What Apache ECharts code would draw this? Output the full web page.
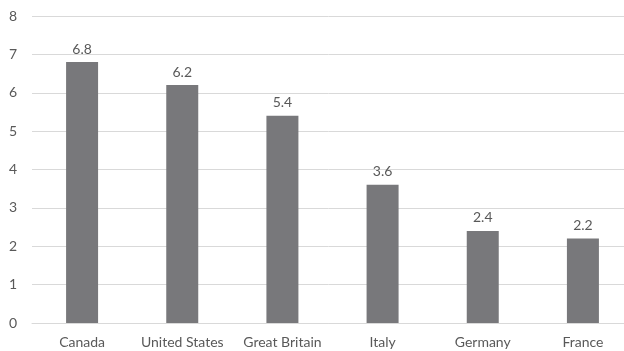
<!DOCTYPE html>
<html>
<head>
<meta charset="utf-8">
<script src="https://cdn.jsdelivr.net/npm/echarts@6/dist/echarts.min.js"></script>
<style>
  html, body { margin: 0; padding: 0; background: #fff; }
  #chart { width: 624px; height: 351px; }
</style>
</head>
<body>
<div id="chart"></div>
<script>
// Countries and their values
const countries = ['Canada', 'United States', 'Great Britain', 'Italy', 'Germany', 'France'];
const values = [6.8, 6.2, 5.4, 3.6, 2.4, 2.2];
const yTicks = [0, 1, 2, 3, 4, 5, 6, 7, 8];

const textColor = '#595959';
const gridColor = '#d9d9d9';
const fontFamily = 'Lato, "Open Sans", sans-serif';

const chart = echarts.init(document.getElementById('chart'), null, { renderer: 'canvas' });
chart.setOption({
  animation: false,
  backgroundColor: '#ffffff',
  // plot area runs a little past the right edge of the canvas
  grid: { left: 32, right: -9, top: 16, bottom: 28, outerBoundsMode: 'none', containLabel: false },
  xAxis: {
    type: 'category',
    data: countries,
    axisTick: { show: false },
    axisLine: { show: true, lineStyle: { color: gridColor, width: 1 } },
    axisLabel: { color: textColor, fontSize: 14, fontFamily: fontFamily, margin: 12, interval: 0 }
  },
  yAxis: {
    type: 'value',
    min: yTicks[0],
    max: yTicks[yTicks.length - 1],
    interval: 1,
    axisLine: { show: false },
    axisTick: { show: false },
    splitLine: { lineStyle: { color: gridColor, width: 1 } },
    axisLabel: { color: textColor, fontSize: 14, fontFamily: fontFamily, margin: 15 }
  },
  series: [{
    type: 'bar',
    data: values,
    barWidth: 32,
    itemStyle: { color: '#78787b' },
    label: {
      show: true,
      position: 'top',
      distance: 6,
      color: textColor,
      fontSize: 14,
      fontFamily: fontFamily,
      formatter: p => p.value.toFixed(1)
    }
  }]
});
</script>
</body>
</html>
